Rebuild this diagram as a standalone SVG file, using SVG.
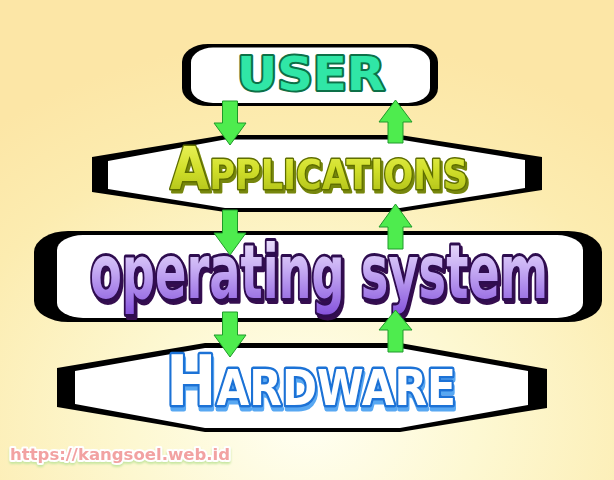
<svg xmlns="http://www.w3.org/2000/svg" width="614" height="480" viewBox="0 0 614 480">
<defs>
  <radialGradient id="bg" cx="50%" cy="88%" r="80%">
    <stop offset="0" stop-color="#fffff2"/>
    <stop offset="0.35" stop-color="#fdf8d2"/>
    <stop offset="0.75" stop-color="#fcecb0"/>
    <stop offset="1" stop-color="#fce6a6"/>
  </radialGradient>
  <linearGradient id="appGrad" x1="0" y1="0" x2="0" y2="1">
    <stop offset="0" stop-color="#f2f868"/>
    <stop offset="0.5" stop-color="#d2e02c"/>
    <stop offset="1" stop-color="#a6b812"/>
  </linearGradient>
  <linearGradient id="osGrad" x1="0" y1="0" x2="0" y2="1">
    <stop offset="0" stop-color="#f8f2ff"/>
    <stop offset="0.45" stop-color="#c9b0f4"/>
    <stop offset="1" stop-color="#8552dc"/>
  </linearGradient>
  <filter id="shApp" x="-5%" y="-20%" width="110%" height="150%">
    <feOffset in="SourceAlpha" dx="1.5" dy="3" result="o"/>
    <feFlood flood-color="#768608"/>
    <feComposite in2="o" operator="in" result="s"/>
    <feMerge><feMergeNode in="s"/><feMergeNode in="SourceGraphic"/></feMerge>
  </filter>
  <filter id="shOs" x="-5%" y="-20%" width="110%" height="150%">
    <feOffset in="SourceAlpha" dx="1.5" dy="1.8" result="o"/>
    <feFlood flood-color="#34104f"/>
    <feComposite in2="o" operator="in" result="s"/>
    <feMerge><feMergeNode in="s"/><feMergeNode in="SourceGraphic"/></feMerge>
  </filter>
  <filter id="shHw" x="-5%" y="-20%" width="110%" height="150%">
    <feOffset in="SourceAlpha" dx="1" dy="4" result="o"/>
    <feFlood flood-color="#58a8f2"/>
    <feComposite in2="o" operator="in" result="s"/>
    <feMerge><feMergeNode in="s"/><feMergeNode in="SourceGraphic"/></feMerge>
  </filter>
  <filter id="shWm" x="-5%" y="-30%" width="110%" height="170%">
    <feOffset in="SourceAlpha" dx="0" dy="1.5" result="o"/>
    <feGaussianBlur in="o" stdDeviation="1" result="b"/>
    <feFlood flood-color="#c6e6a0"/>
    <feComposite in2="b" operator="in" result="s"/>
    <feMerge><feMergeNode in="s"/><feMergeNode in="SourceGraphic"/></feMerge>
  </filter>
  <style>
    .outer{fill:#000}
    .inner{fill:#fff}
    .arrow{fill:#4eec4e;stroke:#1f9a2a;stroke-width:1;stroke-linejoin:miter}
    .t{font-family:"DejaVu Sans","Liberation Sans",sans-serif;font-weight:bold;paint-order:stroke;stroke-linejoin:round}
  </style>
</defs>

<rect x="0" y="0" width="614" height="480" fill="url(#bg)"/>

<g id="node-user">
  <rect class="outer" x="182" y="44" width="256" height="62" rx="26" ry="18"/>
  <rect class="inner" x="191" y="47.5" width="239" height="55.5" rx="22" ry="15"/>
  <text class="t" x="237" y="90" font-size="46" textLength="148" lengthAdjust="spacingAndGlyphs" fill="#30e6a6" stroke="#0d7048" stroke-width="4">USER</text>
</g>

<g id="node-applications">
  <polygon class="outer" points="92,157 225,135 400,135 542,157 542,190 400,212 225,212 92,192"/>
  <polygon class="inner" points="108,161 225,139.5 400,139.5 525,160 525,188 400,208 225,208 108,189"/>
  <text class="t" x="170" y="189" font-size="59" font-variant="small-caps" textLength="298" lengthAdjust="spacingAndGlyphs" fill="url(#appGrad)" stroke="#5f6e00" stroke-width="3" filter="url(#shApp)">Applications</text>
</g>

<g id="node-os">
  <rect class="outer" x="34" y="231" width="568" height="91" rx="34" ry="21"/>
  <rect class="inner" x="57" y="235" width="526" height="83" rx="26" ry="15"/>
  <text class="t" transform="translate(90,298) scale(1,1.45)" x="0" y="0" font-size="52" textLength="458" lengthAdjust="spacingAndGlyphs" fill="url(#osGrad)" stroke="#2e0a50" stroke-width="4" filter="url(#shOs)">operating system</text>
</g>

<g id="node-hardware">
  <polygon class="outer" points="57,368 205,343 400,343 547,369 547,408 400,432 205,432 57,407"/>
  <polygon class="inner" points="75,371 205,348 400,348 528,371 528,405 400,428 205,428 75,404"/>
  <text class="t" x="166" y="405" font-size="70" font-variant="small-caps" textLength="290" lengthAdjust="spacingAndGlyphs" fill="#ffffff" stroke="#1b72d6" stroke-width="5" filter="url(#shHw)">Hardware</text>
</g>

<g id="connectors">
  <polygon class="arrow" points="222.5,101 237.5,101 237.5,123 246,123 230,145 214,123 222.5,123"/>
  <polygon class="arrow" points="388,143 403,143 403,122 412,122 395.5,100 379,122 388,122"/>
  <polygon class="arrow" points="222.5,210 237.5,210 237.5,233 246,233 230,255 214,233 222.5,233"/>
  <polygon class="arrow" points="388,249 403,249 403,227 412,227 395.5,204 379,227 388,227"/>
  <polygon class="arrow" points="222.5,312 237.5,312 237.5,335 246,335 230,357 214,335 222.5,335"/>
  <polygon class="arrow" points="388,352 403,352 403,330 412,330 395.5,310 379,330 388,330"/>
</g>

<text class="t" x="10" y="460" font-size="16" textLength="220" lengthAdjust="spacingAndGlyphs" fill="#f2a2a2" stroke="#ffffff" stroke-width="4" filter="url(#shWm)">https://kangsoel.web.id</text>
</svg>
